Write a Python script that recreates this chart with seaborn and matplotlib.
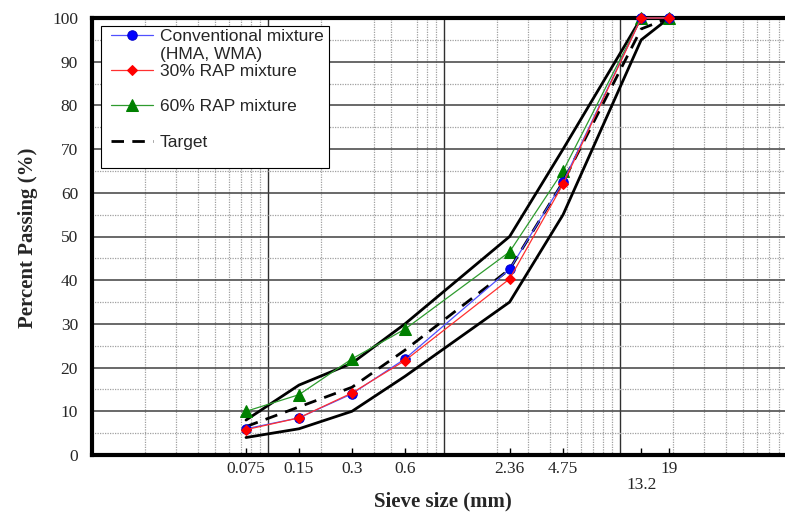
import matplotlib
matplotlib.use("Agg")
import matplotlib.pyplot as plt
import seaborn as sns
import numpy as np
import pandas as pd
from matplotlib.lines import Line2D
from matplotlib.patches import Rectangle
from matplotlib.ticker import FixedLocator, LogLocator, MultipleLocator, NullFormatter

# ---- data ----
sieve = [0.075, 0.15, 0.3, 0.6, 2.36, 4.75, 13.2, 19]
sieve_labels = ["0.075", "0.15", "0.3", "0.6", "2.36", "4.75", "13.2", "19"]
conventional = [6.0, 8.5, 14.0, 22.0, 42.5, 62.5, 100, 100]
rap30 = [5.8, 8.5, 14.2, 21.6, 40.3, 62.0, 100, 100]
rap60 = [10.0, 13.8, 22.0, 28.8, 46.5, 65.0, 100, 100]
target = [6.5, 11.0, 15.5, 24.0, 42.5, 62.5, 97.5, 100]
upper = [8, 16, 21, 30, 50, 70, 100, 100]
lower = [4, 6, 10, 18, 35, 55, 95, 100]
yticks = list(range(0, 101, 10))

sns.set_style("white")
plt.rcParams["font.family"] = ["Liberation Serif", "DejaVu Serif"]

fig = plt.figure(figsize=(7.85, 5.13), dpi=100)
W, H = 785, 513
ax = fig.add_axes([92 / W, 1 - 455 / H, 1 - 92 / W, (455 - 18) / H])

ax.set_xscale("log")
xmax = 10 ** (-2 + (785 - 92) / 176.0)
ax.set_xlim(0.01, xmax)
ax.set_ylim(0, 100)

# grid
ax.xaxis.set_minor_locator(LogLocator(base=10, subs=np.arange(2, 10)))
ax.xaxis.set_minor_formatter(NullFormatter())
ax.yaxis.set_major_locator(FixedLocator(yticks))
ax.yaxis.set_minor_locator(MultipleLocator(5))
ax.grid(which="minor", axis="both", color="#a0a0a0", linestyle=(0, (1, 1)), linewidth=0.9)
ax.grid(which="major", axis="y", color="#404040", linestyle="-", linewidth=1.1)
for d in [0.1, 1, 10]:
    ax.axvline(d, color="#303030", linewidth=1.0, zorder=0.5)

# limits
df_lim = pd.DataFrame({"sieve": sieve, "upper": upper, "lower": lower, "target": target})
sns.lineplot(data=df_lim, x="sieve", y="upper", color="black", linewidth=2.0, ax=ax, zorder=3)
sns.lineplot(data=df_lim, x="sieve", y="lower", color="black", linewidth=2.0, ax=ax, zorder=3)

df = pd.DataFrame({"sieve": sieve, "conv": conventional, "r30": rap30, "r60": rap60})
sns.lineplot(data=df, x="sieve", y="r60", color="#2e9b2e", linewidth=0.9, marker="^",
             markersize=8, markerfacecolor="#008000", markeredgecolor="#008000",
             ax=ax, zorder=4, clip_on=False, label="60% RAP mixture")
sns.lineplot(data=df, x="sieve", y="conv", color="#5050ff", linewidth=0.9, marker="o",
             markersize=6.8, markerfacecolor="#0000ff", markeredgecolor="#0000cc",
             ax=ax, zorder=5, clip_on=False, label="Conventional mixture")
sns.lineplot(data=df, x="sieve", y="r30", color="#ff3030", linewidth=0.9, marker="D",
             markersize=5.2, markerfacecolor="#ff0000", markeredgecolor="#ff0000",
             ax=ax, zorder=6, clip_on=False, label="30% RAP mixture")
sns.lineplot(data=df_lim, x="sieve", y="target", color="black", linewidth=2.0,
             linestyle=(0, (4.5, 3)), ax=ax, zorder=4, label="Target")

# ticks
ax.xaxis.set_major_locator(FixedLocator(sieve))
ax.set_xticklabels(sieve_labels)
ax.tick_params(axis="x", which="major", direction="in", length=5, width=1,
               color="black", labelsize=12.5, pad=4, bottom=True)
ax.tick_params(axis="x", which="minor", length=0)
ax.tick_params(axis="y", which="both", length=0, labelsize=12.5, pad=10)
ax.xaxis.get_major_ticks()[6].set_pad(16)

for s in ["left", "bottom", "top"]:
    ax.spines[s].set_visible(True)
    ax.spines[s].set_linewidth(3)
    ax.spines[s].set_color("black")
ax.spines["right"].set_visible(False)

ax.set_xlabel("Sieve size (mm)", fontsize=15, fontweight="bold")
ax.set_ylabel("Percent Passing (%)", fontsize=15, fontweight="bold")
ax.xaxis.set_label_coords((443 - 92) / (785 - 92), -(491 - 455) / (455 - 18))
ax.yaxis.set_label_coords(-(92 - 38) / (785 - 92), (455 - 238) / (455 - 18))

# legend
h, l = ax.get_legend_handles_labels()
hd = dict(zip(l, h))
blank = Line2D([], [], linestyle="none")
handles = [hd["Conventional mixture"], blank, hd["30% RAP mixture"], blank,
           hd["60% RAP mixture"], blank, hd["Target"], blank]
labels = ["Conventional mixture", "(HMA, WMA)", "30% RAP mixture", " ",
          "60% RAP mixture", " ", "Target", " "]
leg = ax.legend(handles, labels, loc="upper left",
                bbox_to_anchor=(111 / W, 1 - 29 / H), bbox_transform=fig.transFigure,
                borderaxespad=0, borderpad=0, labelspacing=0.14,
                handlelength=2.42, handletextpad=0.4,
                prop={"family": "Liberation Sans", "size": 12.5},
                frameon=False)
leg.set_zorder(10)
frame = Rectangle((101 / W, 1 - 168 / H), (329 - 101) / W, (168 - 26) / H,
                  transform=fig.transFigure, facecolor="white", edgecolor="black",
                  linewidth=0.8, zorder=9)
ax.add_artist(frame)
frame.set_clip_on(False)

fig.savefig("out.png", dpi=100)
